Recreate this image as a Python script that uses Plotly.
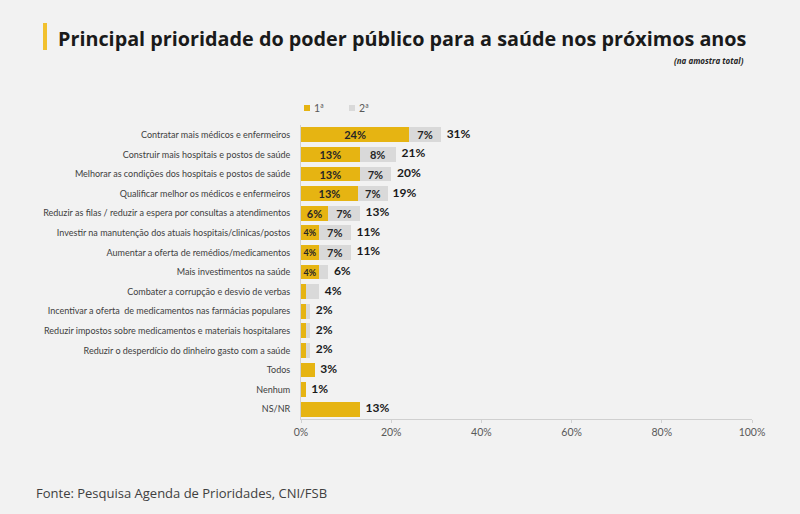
import plotly.graph_objects as go

categories = [
    "Contratar mais médicos e enfermeiros",
    "Construir mais hospitais e postos de saúde",
    "Melhorar as condições dos hospitais e postos de saúde",
    "Qualificar melhor os médicos e enfermeiros",
    "Reduzir as filas / reduzir a espera por consultas a atendimentos",
    "Investir na manutenção dos atuais hospitais/clinicas/postos",
    "Aumentar a oferta de remédios/medicamentos",
    "Mais investimentos na saúde",
    "Combater a corrupção e desvio de verbas",
    "Incentivar a oferta  de medicamentos nas farmácias populares",
    "Reduzir impostos sobre medicamentos e materiais hospitalares",
    "Reduzir o desperdício do dinheiro gasto com a saúde",
    "Todos",
    "Nenhum",
    "NS/NR",
]
first = [24, 13, 13, 12.6, 6, 4, 4, 4, 1, 1, 1, 1, 3, 1, 13]
second = [7, 8, 7, 6.6, 7, 7, 7, 2, 3, 1, 1, 1, 0, 0, 0]
totals = [31, 21, 20, 19, 13, 11, 11, 6, 4, 2, 2, 2, 3, 1, 13]
series_names = ["1ª", "2ª"]
tick_vals = [0, 20, 40, 60, 80, 100]
tick_text = ["0%", "20%", "40%", "60%", "80%", "100%"]

YELLOW = "#E6B412"
GRAY = "#D9D9D9"
BG = "#F2F2F2"
LBL_FONT = "Lato"

first_text = [f"{round(v)}%" if (v >= 4 and s > 0) else "" for v, s in zip(first, second)]
second_text = [f"{round(v)}%" if v >= 4 else "" for v in second]
first_sizes = [11 if v >= 6 else 9 for v in first]
second_sizes = [11 for _ in second]
total_text = ["\u00a0\u00a0" + f"{t}%" for t in totals]

fig = go.Figure()
fig.add_trace(go.Bar(
    y=categories, x=first, orientation="h", name=series_names[0],
    marker=dict(color=YELLOW, line=dict(width=0)),
    text=first_text, textposition="inside", insidetextanchor="middle",
    constraintext="none",
    textfont=dict(family=LBL_FONT, size=first_sizes, color="#262626", weight="bold"),
    hoverinfo="skip", showlegend=False,
))
fig.add_trace(go.Bar(
    y=categories, x=second, orientation="h", name=series_names[1],
    marker=dict(color=GRAY, line=dict(width=0)),
    text=second_text, textposition="inside", insidetextanchor="middle",
    constraintext="none",
    textfont=dict(family=LBL_FONT, size=second_sizes, color="#262626", weight="bold"),
    hoverinfo="skip", showlegend=False,
))
fig.add_trace(go.Scatter(
    y=categories, x=totals, mode="text", text=total_text,
    textposition="middle right",
    textfont=dict(family=LBL_FONT, size=12, color="#1a1a1a", weight="bold"),
    showlegend=False, hoverinfo="skip", cliponaxis=False,
))

def px_x(p):
    return (p - 301) / 451

def px_y(p):
    return (419 - p) / 294

shapes = [
    dict(type="rect", xref="paper", yref="paper",
         x0=px_x(43), x1=px_x(47), y0=px_y(50), y1=px_y(23),
         fillcolor="#F2C12E", line=dict(width=0)),
    dict(type="rect", xref="paper", yref="paper",
         x0=px_x(304), x1=px_x(310), y0=px_y(111), y1=px_y(105),
         fillcolor=YELLOW, line=dict(width=0)),
    dict(type="rect", xref="paper", yref="paper",
         x0=px_x(349), x1=px_x(355), y0=px_y(111), y1=px_y(105),
         fillcolor=GRAY, line=dict(width=0)),
]

fig.update_layout(
    width=800, height=514,
    paper_bgcolor=BG, plot_bgcolor=BG,
    barmode="stack", bargap=0.24,
    margin=dict(l=301, r=48, t=125, b=95, autoexpand=False),
    xaxis=dict(
        range=[0, 100], tickvals=tick_vals, ticktext=tick_text,
        showgrid=False, zeroline=False, automargin=False,
        showline=True, linecolor="#D0D0D0", linewidth=1,
        ticks="outside", ticklen=3, tickcolor="#D0D0D0",
        tickfont=dict(family=LBL_FONT, size=10.5, color="#595959"),
    ),
    yaxis=dict(
        range=[len(categories) - 0.5, -0.5], autorange=False,
        showgrid=False, zeroline=False, automargin=False,
        showline=True, linecolor="#D0D0D0", linewidth=1,
        ticks="", ticklabelstandoff=8,
        tickfont=dict(family=LBL_FONT, size=9, color="#404040"),
    ),
    showlegend=False,
    shapes=shapes,
    annotations=[
        dict(text="Principal prioridade do poder público para a saúde nos próximos anos",
             xref="paper", yref="paper", x=px_x(56), y=px_y(39),
             xanchor="left", yanchor="middle", showarrow=False,
             font=dict(family="Open Sans", size=19.8, color="#1a1a1a", weight="bold")),
        dict(text="<i>(na amostra total)</i>",
             xref="paper", yref="paper", x=px_x(746), y=px_y(60),
             xanchor="right", yanchor="middle", showarrow=False,
             font=dict(family="Open Sans", size=8, color="#262626", weight="bold")),
        dict(text=series_names[0], xref="paper", yref="paper", x=px_x(312), y=px_y(108),
             xanchor="left", yanchor="middle", showarrow=False,
             font=dict(family=LBL_FONT, size=10.5, color="#595959")),
        dict(text=series_names[1], xref="paper", yref="paper", x=px_x(357), y=px_y(108),
             xanchor="left", yanchor="middle", showarrow=False,
             font=dict(family=LBL_FONT, size=10.5, color="#595959")),
        dict(text="Fonte: Pesquisa Agenda de Prioridades, CNI/FSB",
             xref="paper", yref="paper", x=px_x(34), y=px_y(493),
             xanchor="left", yanchor="middle", showarrow=False,
             font=dict(family="Open Sans", size=13, color="#404040")),
    ],
)

fig.write_html("out.html", config={"displayModeBar": False},
               post_script="document.body.style.margin='0';")
